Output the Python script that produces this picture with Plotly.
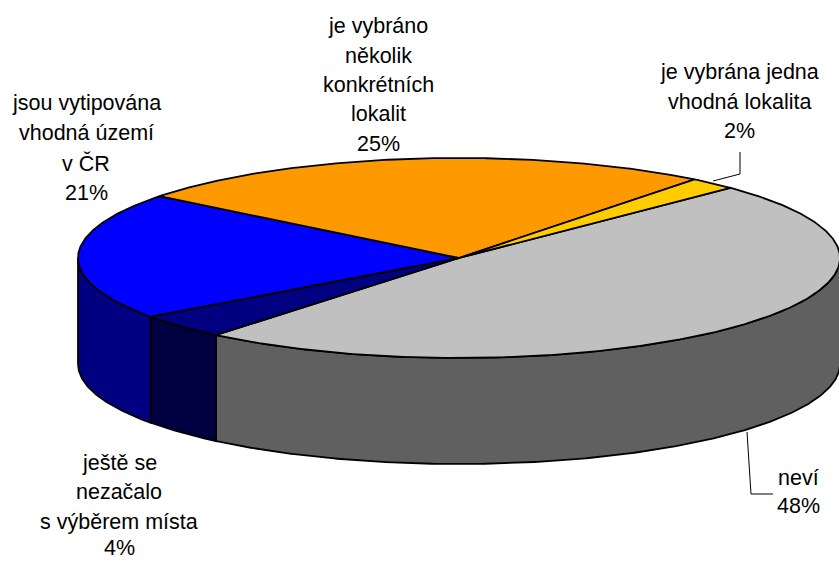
import numpy as np
import plotly.graph_objects as go

# Data
categories = ["neví", "ještě se nezačalo s výběrem místa", "jsou vytipována vhodná území v ČR",
              "je vybráno několik konkrétních lokalit", "je vybrána jedna vhodná lokalita"]
values = [48.4, 4.0, 20.6, 25.0, 2.0]
label_lines = [["neví"], ["ještě se", "nezačalo", "s výběrem místa"], ["jsou vytipována", "vhodná území", "v ČR"],
               ["je vybráno", "několik", "konkrétních", "lokalit"], ["je vybrána jedna", "vhodná lokalita"]]

# Styles and geometry
top_colors = ["#C0C0C0", "#000080", "#0000FF", "#FF9900", "#FFCC00"]
side_colors = ["#606060", "#000040", "#000080", "#804D00", "#806600"]
CX, CY, RX, RY, DEPTH = 459, 258, 381, 100, 106
START = 45.4
label_x = [798, 119, 86, 378, 739]
label_y = [[478, 506], [463, 492, 522, 547.5], [103, 133, 163, 193], [26, 56, 85, 114, 144], [72, 102, 131]]
FONT = dict(family="Liberation Sans, Arial, sans-serif", size=21.5, color="#000000")


def rim(a0, a1, dy=0.0):
    t = np.radians(np.linspace(a0, a1, max(int(abs(a1 - a0) * 2), 2) + 1))
    return CX + RX * np.sin(t), CY - RY * np.cos(t) + dy


edges = START + np.concatenate([[0], np.cumsum(values)]) * 360 / sum(values)
fig = go.Figure()

# side walls (only the front half of the rim is visible: 90 to 270 degrees)
for i in range(len(values)):
    a0, a1 = max(edges[i], 90), min(edges[i + 1], 270)
    if a1 <= a0:
        continue
    x1, y1 = rim(a0, a1)
    x2, y2 = rim(a1, a0, DEPTH)
    fig.add_trace(go.Scatter(x=np.r_[x1, x2, x1[0]], y=np.r_[y1, y2, y1[0]], mode="lines", fill="toself",
                             fillcolor=side_colors[i], line=dict(color="#000000", width=1.8),
                             hoverinfo="skip", showlegend=False))

# top faces
for i in range(len(values)):
    x1, y1 = rim(edges[i], edges[i + 1])
    fig.add_trace(go.Scatter(x=np.r_[CX, x1, CX], y=np.r_[CY, y1, CY], mode="lines", fill="toself",
                             fillcolor=top_colors[i], line=dict(color="#000000", width=1.8),
                             name=categories[i], showlegend=False))

# leader lines
fig.add_trace(go.Scatter(x=[740, 740, 713], y=[152, 174, 181], mode="lines",
                         line=dict(color="#000000", width=1), hoverinfo="skip", showlegend=False))
fig.add_trace(go.Scatter(x=[747, 751, 773], y=[432, 494, 494], mode="lines",
                         line=dict(color="#000000", width=1), hoverinfo="skip", showlegend=False))

# labels
for i in range(len(values)):
    lines = label_lines[i] + [f"{values[i]:.0f}%"]
    for text, y in zip(lines, label_y[i]):
        fig.add_annotation(x=label_x[i], y=y, text=text, showarrow=False, font=FONT,
                           xanchor="center", yanchor="middle")

fig.update_layout(width=839, height=561, margin=dict(l=0, r=0, t=0, b=0),
                  paper_bgcolor="#FFFFFF", plot_bgcolor="#FFFFFF",
                  xaxis=dict(range=[0, 839], visible=False, fixedrange=True),
                  yaxis=dict(range=[561, 0], visible=False, fixedrange=True))
fig.write_html("out.html", config={"displayModeBar": False},
               post_script="document.body.style.margin='0';document.body.style.overflow='hidden';")
